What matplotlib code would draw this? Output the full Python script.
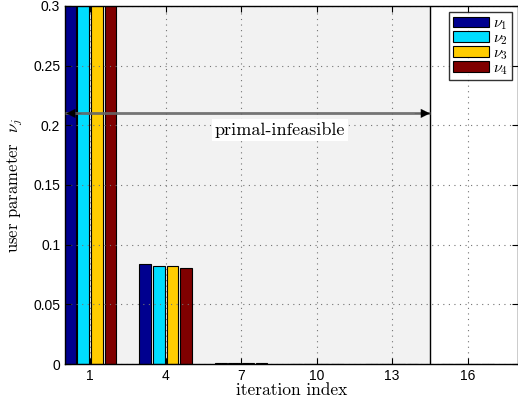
import matplotlib
matplotlib.use("Agg")
import matplotlib.pyplot as plt
from matplotlib.patches import Patch
import numpy as np

plt.rcParams["mathtext.fontset"] = "cm"

# iteration indices and user parameter values per user
iterations = [1, 4, 7, 10, 13, 16]
nu1 = [0.52, 0.084, 0.0006, 0.0, 0.0, 0.0]
nu2 = [0.50, 0.082, 0.0006, 0.0, 0.0, 0.0]
nu3 = [0.49, 0.082, 0.0006, 0.0, 0.0, 0.0]
nu4 = [0.47, 0.0805, 0.0006, 0.0, 0.0, 0.0]
series_labels = [r"$\nu_1$", r"$\nu_2$", r"$\nu_3$", r"$\nu_4$"]
colors = ["#00008F", "#00DDFF", "#FFCC00", "#800000"]
ytick_vals = [0, 0.05, 0.1, 0.15, 0.2, 0.25, 0.3]
ytick_labels = ["0", "0.05", "0.1", "0.15", "0.2", "0.25", "0.3"]
infeasible_end = 14.5
arrow_level = 0.21

fig = plt.figure(figsize=(5.18, 4.07), dpi=100)
ax = fig.add_axes([65 / 518, 1 - 364 / 407, 453 / 518, 358 / 407])

# shaded primal-infeasible region
ax.axvspan(0, infeasible_end, color="#f2f2f2", zorder=0)
ax.axvline(infeasible_end, color="black", lw=1.0, zorder=3)

x = np.array(iterations, dtype=float)
offsets = [-0.81, -0.27, 0.27, 0.81]
for vals, off, c in zip([nu1, nu2, nu3, nu4], offsets, colors):
    ax.bar(x + off, vals, width=0.47, color=c, edgecolor="black",
           linewidth=0.8, zorder=2)

ax.set_xlim(0, 18)
ax.set_ylim(0, 0.3)
ax.set_xticks(iterations)
ax.set_xticklabels([str(i) for i in iterations], family="Liberation Sans", fontsize=10)
ax.set_yticks(ytick_vals)
ax.set_yticklabels(ytick_labels, family="Liberation Sans", fontsize=10)
ax.tick_params(direction="in", top=True, right=True, length=4, width=0.8)
ax.grid(True, linestyle=(0, (1, 4)), color="0.45", lw=0.8, zorder=1)
ax.set_axisbelow(False)
for s in ax.spines.values():
    s.set_linewidth(1.0)
    s.set_zorder(4)

# double arrow: grey shaft with black heads
ax.plot([0, infeasible_end], [arrow_level, arrow_level], color="0.4", lw=2.0,
        alpha=0.9, zorder=5, solid_capstyle="butt")
for tip, tail in [(0.05, 0.65), (infeasible_end, infeasible_end - 0.6)]:
    ax.annotate("", xy=(tip, arrow_level), xytext=(tail, arrow_level),
                annotation_clip=False,
                arrowprops=dict(arrowstyle="-|>", color="black", lw=0.1,
                                mutation_scale=16, shrinkA=0, shrinkB=0),
                zorder=6)
ax.text(8.55, 0.196, "primal-infeasible", family="cmr10", fontsize=13,
        ha="center", va="center", zorder=6,
        bbox=dict(facecolor="white", edgecolor="none", pad=2))

ax.set_xlabel("iteration index", family="cmr10", fontsize=12.5, labelpad=0)
ax.set_ylabel(r"user parameter  $\nu_j$", family="cmr10", fontsize=12, labelpad=6)

handles = [Patch(facecolor=c, edgecolor="black", lw=0.8) for c in colors]
leg = ax.legend(handles, series_labels, loc="upper right", fontsize=11.5,
                frameon=True, fancybox=False, edgecolor="black",
                handlelength=2.3, handleheight=0.65, labelspacing=-0.12,
                handletextpad=0.25, borderpad=0.2, borderaxespad=0.4)
leg.get_frame().set_linewidth(1.0)
leg.set_zorder(7)

fig.savefig("out.png", dpi=100)
